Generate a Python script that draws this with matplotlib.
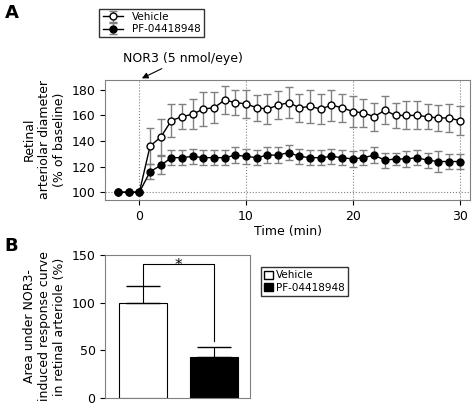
import numpy as np
import matplotlib.pyplot as plt
from matplotlib.patches import Patch

t = np.arange(-2, 31)
vehicle = [100, 100, 100, 136, 143, 156, 159, 161, 165, 166, 172, 170, 169, 166, 165, 168, 170,
           166, 167, 165, 168, 166, 163, 162, 159, 164, 160, 160, 160, 159, 158, 158, 156]
vehicle_err = [0, 0, 0, 14, 14, 13, 10, 12, 13, 12, 11, 10, 11, 10, 12, 11, 12,
               11, 13, 12, 12, 11, 12, 11, 11, 11, 10, 11, 11, 10, 10, 11, 11]
pf = [100, 100, 100, 116, 121, 127, 127, 128, 127, 127, 127, 129, 128, 127, 129, 129, 131,
      128, 127, 127, 128, 127, 126, 127, 129, 125, 126, 126, 127, 125, 124, 124, 124]
pf_err = [0, 0, 0, 6, 7, 6, 6, 6, 6, 6, 6, 6, 6, 6, 6, 6, 6,
          6, 6, 6, 6, 6, 6, 6, 6, 6, 5, 6, 6, 6, 8, 6, 6]

groups = ["Vehicle", "PF-04418948"]
auc = [100, 43]
auc_err = [17, 10]

fig = plt.figure(figsize=(4.74, 4.08), dpi=100)
ax = fig.add_axes([0.222, 0.51, 0.77, 0.295])
for xv in [0, 10, 20, 30]:
    ax.axvline(xv, color="gray", ls=":", lw=0.8)
ax.axhline(100, color="gray", ls=":", lw=0.8)
ax.errorbar(t, vehicle, yerr=vehicle_err, color="black", ecolor="gray", capsize=3, lw=1,
            marker="o", mfc="white", mec="black", ms=5, label="Vehicle", zorder=3)
ax.errorbar(t, pf, yerr=pf_err, color="black", ecolor="gray", capsize=3, lw=1,
            marker="o", mfc="black", ms=5, label="PF-04418948", zorder=3)
ax.set_xlim(-3.2, 31)
ax.set_ylim(94, 188)
ax.set_yticks([100, 120, 140, 160, 180])
ax.set_xticks([0, 10, 20, 30])
ax.tick_params(labelsize=9)
for s in ax.spines.values():
    s.set_color("gray")
ax.set_xlabel("Time (min)", fontsize=9, labelpad=2)
ax.set_ylabel("Retinal\narteriolar diameter\n(% of baseline)", fontsize=9)
ax.legend(loc="upper left", bbox_to_anchor=(-0.03, 1.63), fontsize=7.5, frameon=True,
          fancybox=False, edgecolor="black", handlelength=2, borderpad=0.3, labelspacing=0.2)
ax.annotate("NOR3 (5 nmol/eye)", xy=(0, 188), xytext=(-1.5, 202), fontsize=9,
            annotation_clip=False, arrowprops=dict(arrowstyle="-|>", color="black", lw=0.8),
            ha="left")
fig.text(0.01, 0.955, "A", fontsize=13, fontweight="bold")

bx = fig.add_axes([0.222, 0.025, 0.306, 0.35])
bx.bar([0, 1], auc, width=0.67, color=["white", "black"], edgecolor="black", lw=0.8,
       yerr=[[0, 0], auc_err], capsize=12, error_kw=dict(lw=0.8))
bx.set_xlim(-0.52, 1.5)
bx.set_ylim(0, 150)
bx.set_yticks([0, 50, 100, 150])
bx.set_xticks([])
bx.tick_params(labelsize=9)
for s in bx.spines.values():
    s.set_color("gray")
bx.plot([0, 0, 1, 1], [117, 141, 141, 60], color="black", lw=0.8)
bx.text(0.5, 134, "*", ha="center", fontsize=11)
bx.set_ylabel("Area under NOR3-\ninduced response curve\nin retinal arteriole (%)", fontsize=9)
bx.legend(handles=[Patch(fc="white", ec="black", label=groups[0]),
                   Patch(fc="black", ec="black", label=groups[1])],
          loc="upper left", bbox_to_anchor=(1.04, 0.95), fontsize=7.5, fancybox=False,
          edgecolor="black", handlelength=0.8, handleheight=0.8, borderpad=0.3,
          labelspacing=0.2, handletextpad=0.3)
fig.text(0.01, 0.385, "B", fontsize=13, fontweight="bold")

fig.savefig("out.png", dpi=100)
